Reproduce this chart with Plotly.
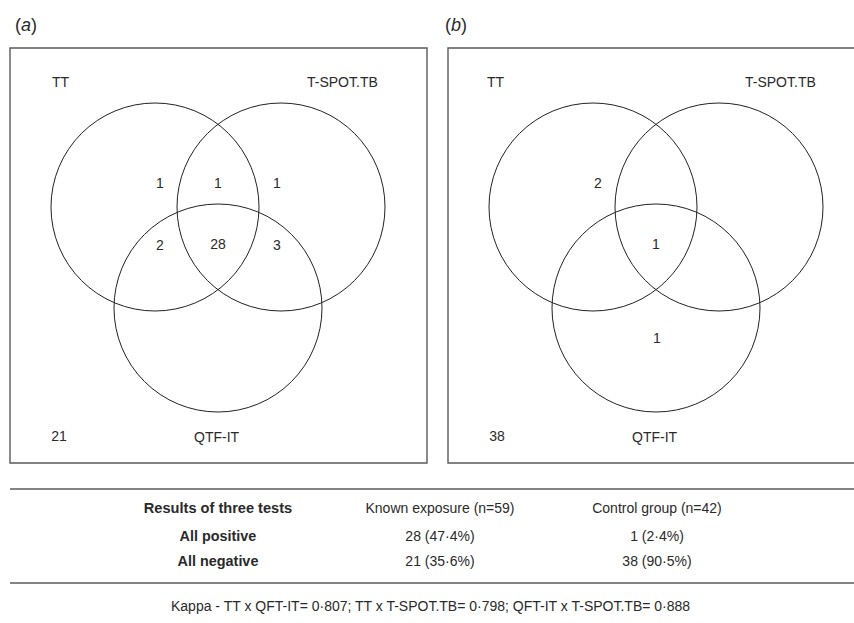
import plotly.graph_objects as go

# ---------------- data ----------------
set_names = ["TT", "T-SPOT.TB", "QTF-IT"]
panel_titles = ["(<i>a</i>)", "(<i>b</i>)"]

regions_a = ["TT only", "TT+TSPOT", "TSPOT only", "TT+QTF", "All three", "TSPOT+QTF", "None"]
counts_a = [1, 1, 1, 2, 28, 3, 21]

regions_b = ["TT only", "All three", "QTF only", "None"]
counts_b = [2, 1, 1, 38]

table_header = ["Results of three tests", "Known exposure (n=59)", "Control group (n=42)"]
table_rows = ["All positive", "All negative"]
known_exposure = ["28 (47·4%)", "21 (35·6%)"]
control_group = ["1 (2·4%)", "38 (90·5%)"]

kappa_text = "Kappa - TT x QFT-IT= 0·807; TT x T-SPOT.TB= 0·798; QFT-IT x T-SPOT.TB= 0·888"

# ---------------- layout helpers ----------------
W, H = 854, 623
FONT = "Liberation Sans, Arial, sans-serif"
TXT = "#2a2a2a"

panel_offsets = [0, 438]
title_x = [13, 443]
R = 104
circle_centres = {"TT": (155, 207), "T-SPOT.TB": (281, 207), "QTF-IT": (218, 308)}
set_label_pos = {"TT": (61, 82), "T-SPOT.TB": (342, 82), "QTF-IT": (217, 437)}
region_pos = {
    "TT only": (160, 184), "TT+TSPOT": (218, 184), "TSPOT only": (277, 184),
    "TT+QTF": (160, 246), "All three": (218, 245), "TSPOT+QTF": (277, 246),
    "QTF only": (219, 339), "None": (59, 437),
}

fig = go.Figure()
shapes = []
annotations = []

for p, (off, title) in enumerate(zip(panel_offsets, panel_titles)):
    # frame
    shapes.append(dict(type="rect", xref="x", yref="y", x0=10 + off, x1=427 + off, y0=48, y1=463,
                       line=dict(color="#5a5a5a", width=1.4)))
    # circles
    for name in set_names:
        cx, cy = circle_centres[name]
        shapes.append(dict(type="circle", xref="x", yref="y",
                           x0=cx - R + off, x1=cx + R + off, y0=cy - R, y1=cy + R,
                           line=dict(color="#222222", width=1)))
        lx, ly = set_label_pos[name]
        annotations.append(dict(x=lx + off - (3 if p == 1 and name == "TT" else 0), y=ly,
                                xref="x", yref="y", text=name, showarrow=False,
                                font=dict(family=FONT, size=14, color=TXT)))
    annotations.append(dict(x=title_x[p], y=25, xref="x", yref="y", text=title, showarrow=False,
                            xanchor="left", font=dict(family=FONT, size=18, color=TXT)))

# region counts as text traces
for off, regs, cnts in [(panel_offsets[0], regions_a, counts_a), (panel_offsets[1], regions_b, counts_b)]:
    fig.add_trace(go.Scatter(
        x=[region_pos[r][0] + off for r in regs],
        y=[region_pos[r][1] for r in regs],
        text=[str(c) for c in cnts], mode="text",
        textfont=dict(family=FONT, size=14, color=TXT),
        hoverinfo="skip", showlegend=False))

# table
col_x = [218, 440, 657]
row_y = [509, 537, 562]
fig.add_trace(go.Scatter(
    x=[col_x[0]], y=[row_y[0]], text=["<b>" + table_header[0] + "</b>"],
    mode="text", textfont=dict(family=FONT, size=14.6, color=TXT),
    hoverinfo="skip", showlegend=False))
fig.add_trace(go.Scatter(
    x=col_x[1:], y=[row_y[0]] * 2, text=table_header[1:],
    mode="text", textfont=dict(family=FONT, size=14, color=TXT),
    hoverinfo="skip", showlegend=False))
fig.add_trace(go.Scatter(
    x=[col_x[0]] * len(table_rows), y=row_y[1:],
    text=["<b>" + r + "</b>" for r in table_rows], mode="text",
    textfont=dict(family=FONT, size=14.4, color=TXT), hoverinfo="skip", showlegend=False))
fig.add_trace(go.Scatter(
    x=[col_x[1]] * len(known_exposure), y=row_y[1:], text=known_exposure, mode="text",
    textfont=dict(family=FONT, size=14, color=TXT), hoverinfo="skip", showlegend=False))
fig.add_trace(go.Scatter(
    x=[col_x[2]] * len(control_group), y=row_y[1:], text=control_group, mode="text",
    textfont=dict(family=FONT, size=14, color=TXT), hoverinfo="skip", showlegend=False))

for ly in (489, 583):
    shapes.append(dict(type="line", xref="x", yref="y", x0=10, x1=W, y0=ly, y1=ly,
                       line=dict(color="#5a5a5a", width=1.4)))

annotations.append(dict(x=430, y=606, xref="x", yref="y", text=kappa_text, showarrow=False,
                        font=dict(family=FONT, size=14, color=TXT)))

fig.update_layout(
    width=W, height=H, margin=dict(l=0, r=0, t=0, b=0),
    paper_bgcolor="white", plot_bgcolor="white",
    xaxis=dict(range=[0, W], visible=False, fixedrange=True),
    yaxis=dict(range=[H, 0], visible=False, fixedrange=True),
    shapes=shapes, annotations=annotations, showlegend=False,
)

fig.write_html("out.html", config={"displayModeBar": False},
               post_script="document.body.style.margin='0';document.body.style.overflow='hidden';")
